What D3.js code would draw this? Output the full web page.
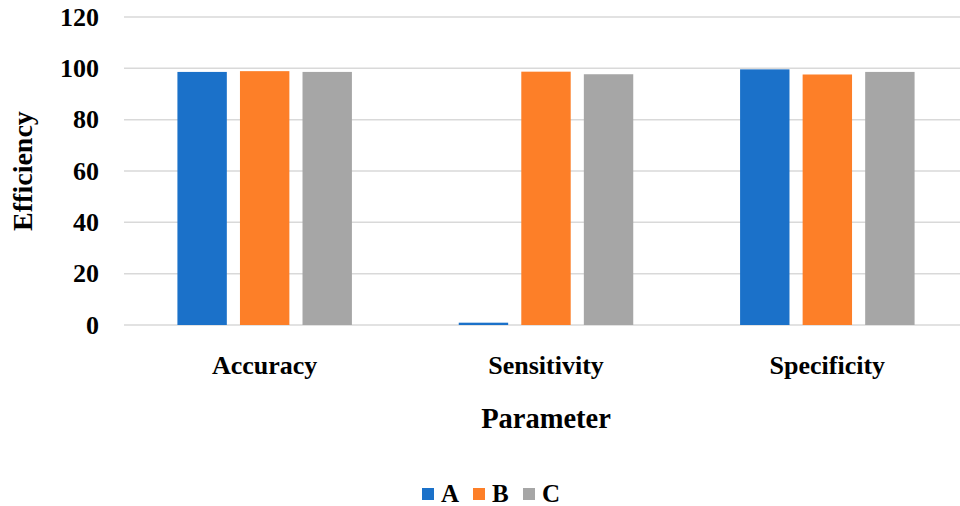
<!DOCTYPE html>
<html>
<head>
<meta charset="utf-8">
<script src="https://cdn.jsdelivr.net/npm/d3@7"></script>
<style>
  body { margin: 0; background: #fff; }
  svg { display: block; font-family: "Liberation Serif", "Times New Roman", serif; font-weight: bold; }
</style>
</head>
<body>
<svg id="chart" width="960" height="506"></svg>
<script>
const categories = ["Accuracy", "Sensitivity", "Specificity"];
const seriesNames = ["A", "B", "C"];
const seriesA = [98.6, 0.9, 99.6];
const seriesB = [98.9, 98.7, 97.6];
const seriesC = [98.6, 97.7, 98.6];
const yTicks = [0, 20, 40, 60, 80, 100, 120];
const colors = ["#1b71c9", "#fd7f28", "#a6a6a6"];

const values = [seriesA, seriesB, seriesC];
const data = categories.map((c, i) => ({
    name: c,
    vals: seriesNames.map((s, j) => ({ key: s, value: values[j][i] }))
}));

const svg = d3.select("#chart");
const margin = {top: 17, left: 124, right: -8};
const width = 960;
const plotBottom = 325;

const x0 = d3.scaleBand()
    .domain(categories)
    .range([margin.left, width - margin.right])
    .padding(0);

const x1 = d3.scaleBand()
    .domain(seriesNames)
    .range([0, 174.5])
    .paddingInner(0.21)
    .paddingOuter(0);

const groupOffset = (x0.bandwidth() - 174.5) / 2;

const y = d3.scaleLinear()
    .domain([0, 120])
    .range([plotBottom, margin.top]);

// gridlines
svg.append("g")
    .selectAll("line.grid")
    .data(yTicks)
    .enter()
    .append("line")
    .attr("class", "grid")
    .attr("x1", margin.left)
    .attr("x2", width)
    .attr("y1", d => y(d))
    .attr("y2", d => y(d))
    .attr("stroke", "#d9d9d9")
    .attr("stroke-width", 1.5);

// y tick labels
const yAxis = d3.axisLeft(y).tickValues(yTicks).tickSize(0).tickPadding(25);
const yAxisGroup = svg.append("g")
    .attr("class", "yAxis")
    .attr("transform", `translate(${margin.left}, 0)`)
    .call(yAxis);
yAxisGroup.select(".domain").remove();
yAxisGroup.selectAll("text")
    .attr("font-size", 26)
    .attr("font-family", "Liberation Serif")
    .attr("font-weight", "bold")
    .attr("fill", "#000");

// bars
const groups = svg.selectAll("g.cat")
    .data(data)
    .enter()
    .append("g")
    .attr("class", "cat")
    .attr("transform", d => `translate(${x0(d.name) + groupOffset}, 0)`);

groups.selectAll("rect.bar")
    .data(d => d.vals)
    .enter()
    .append("rect")
    .attr("class", "bar")
    .attr("x", d => x1(d.key))
    .attr("width", x1.bandwidth())
    .attr("y", d => y(d.value))
    .attr("height", d => y(0) - y(d.value))
    .attr("fill", (d, i) => colors[i]);

// category labels
const xAxis = d3.axisBottom(x0).tickSize(0).tickPadding(31);
const xAxisGroup = svg.append("g")
    .attr("class", "xAxis")
    .attr("transform", `translate(0, ${plotBottom})`)
    .call(xAxis);
xAxisGroup.select(".domain").remove();
xAxisGroup.selectAll("text")
    .attr("font-size", 26)
    .attr("font-family", "Liberation Serif")
    .attr("font-weight", "bold")
    .attr("fill", "#000");

// axis titles
svg.append("text")
    .attr("x", (x0(categories[0]) + x0(categories[2]) + x0.bandwidth()) / 2)
    .attr("y", 428)
    .attr("text-anchor", "middle")
    .attr("font-size", 28.5)
    .text("Parameter");

svg.append("text")
    .attr("transform", "translate(32, 171) rotate(-90)")
    .attr("text-anchor", "middle")
    .attr("font-size", 28)
    .text("Efficiency");

// legend
const legendX = [422, 473, 523];
const legend = svg.append("g").attr("class", "legend");
seriesNames.forEach((s, i) => {
    legend.append("rect")
        .attr("x", legendX[i])
        .attr("y", 488)
        .attr("width", 12)
        .attr("height", 12)
        .attr("fill", colors[i]);
    legend.append("text")
        .attr("x", legendX[i] + 19)
        .attr("y", 502)
        .attr("font-size", 25)
        .text(s);
});
</script>
</body>
</html>
